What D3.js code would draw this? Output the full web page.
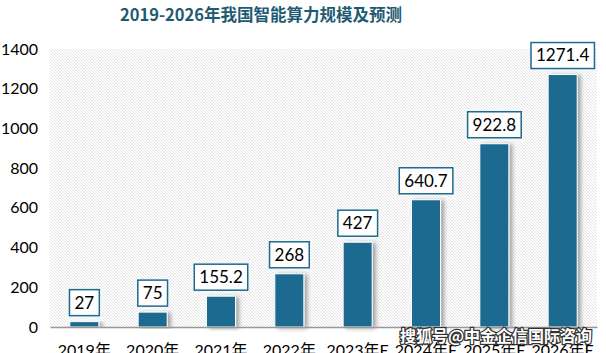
<!DOCTYPE html>
<html>
<head>
<meta charset="utf-8">
<script src="https://cdn.jsdelivr.net/npm/d3@7"></script>
<style>
  body { margin: 0; background: #fff; }
  text { font-family: Lato, "Noto Sans CJK SC", sans-serif; }
</style>
</head>
<body>
<div id="chart"></div>
<script>
// Data
const years = ["2019年", "2020年", "2021年", "2022年", "2023年E", "2024年E", "2025年E", "2026年E"];
const values = [27, 75, 155.2, 268, 427, 640.7, 922.8, 1271.4];
const labels = ["27", "75", "155.2", "268", "427", "640.7", "922.8", "1271.4"];
const yTicks = [0, 200, 400, 600, 800, 1000, 1200, 1400];

const width = 606, height = 353;
const margin = { top: 49, right: 9, bottom: 26, left: 50 };
const barColor = "#1c6b8f";

const svg = d3.select("#chart").append("svg")
    .attr("width", width)
    .attr("height", height);

const defs = svg.append("defs");

// Diagonal hatch for plot background
const pattern = defs.append("pattern")
    .attr("id", "hatch")
    .attr("patternUnits", "userSpaceOnUse")
    .attr("width", 3)
    .attr("height", 3);
pattern.append("rect").attr("width", 3).attr("height", 3).attr("fill", "#fff");
pattern.append("path")
    .attr("d", "M-1,-1 L4,4 M-1,2 L1,4 M2,-1 L4,1")
    .attr("stroke", "#dcdcdc")
    .attr("stroke-width", 0.8);

// Bar shadow
const shadow = defs.append("filter")
    .attr("id", "shadow")
    .attr("x", "-30%").attr("y", "-10%")
    .attr("width", "160%").attr("height", "120%");
shadow.append("feDropShadow")
    .attr("dx", 3).attr("dy", 1)
    .attr("stdDeviation", 2)
    .attr("flood-color", "#000")
    .attr("flood-opacity", 0.35);

const x = d3.scaleBand()
    .domain(years)
    .range([margin.left, width - margin.right])
    .paddingInner(0.575)
    .paddingOuter(0.29);

const y = d3.scaleLinear()
    .domain([0, 1400])
    .range([height - margin.bottom, margin.top]);

// Title
svg.append("text")
    .attr("x", 261)
    .attr("y", 21)
    .attr("text-anchor", "middle")
    .style("font-family", "'Noto Sans CJK SC', sans-serif")
    .style("font-size", "16.5px")
    .style("font-weight", "bold")
    .attr("fill", "#1f5a73")
    .text("2019-2026年我国智能算力规模及预测");

// Hatched plot background
svg.append("rect")
    .attr("x", margin.left)
    .attr("y", y(1400))
    .attr("width", width - margin.right - margin.left)
    .attr("height", y(0) - y(1400))
    .attr("fill", "url(#hatch)");

// Y axis labels
svg.append("g")
    .attr("transform", `translate(${margin.left},0)`)
    .call(d3.axisLeft(y).tickValues(yTicks).tickSize(0).tickPadding(12).tickFormat(d3.format("d")))
    .call(g => g.select(".domain").remove())
    .selectAll("text")
    .style("font-size", "16px")
    .attr("fill", "#000");

// Bars
svg.selectAll("rect.bar")
    .data(values)
    .join("rect")
    .attr("class", "bar")
    .attr("x", (d, i) => x(years[i]))
    .attr("y", d => y(d))
    .attr("width", x.bandwidth())
    .attr("height", d => y(0) - y(d))
    .attr("fill", barColor)
    .attr("stroke", "#fff")
    .attr("stroke-width", 1)
    .attr("filter", "url(#shadow)");

// X axis
svg.append("g")
    .attr("transform", `translate(0,${y(0)})`)
    .call(d3.axisBottom(x).tickSize(0).tickPadding(18))
    .call(g => g.select(".domain").attr("stroke", "#999").attr("stroke-width", 1.5))
    .selectAll("text")
    .style("font-family", "Lato, 'Noto Sans CJK SC', sans-serif")
    .style("font-size", "16px")
    .attr("fill", "#000");

// Value label boxes
const labelG = svg.selectAll("g.vlabel")
    .data(values)
    .join("g")
    .attr("class", "vlabel")
    .attr("transform", (d, i) => `translate(${x(years[i]) + x.bandwidth() / 2},${y(d) - 19})`);

labelG.append("text")
    .attr("text-anchor", "middle")
    .attr("dy", "0.35em")
    .style("font-size", "17px")
    .attr("fill", "#000")
    .text((d, i) => labels[i]);

labelG.each(function () {
    const g = d3.select(this);
    const bb = g.select("text").node().getBBox();
    g.insert("rect", "text")
        .attr("x", bb.x - 5)
        .attr("y", -13)
        .attr("width", bb.width + 10)
        .attr("height", 26)
        .attr("fill", "#fff")
        .attr("stroke", "#1c6b8f")
        .attr("stroke-width", 1.5);
});

// Watermark
svg.append("text")
    .attr("x", 592)
    .attr("y", 342)
    .attr("text-anchor", "end")
    .style("font-family", "'Noto Sans CJK SC', sans-serif")
    .style("font-size", "16px")
    .style("font-weight", "bold")
    .attr("fill", "#fff")
    .attr("stroke", "#333")
    .attr("stroke-width", 2.5)
    .attr("paint-order", "stroke")
    .text("搜狐号@中金企信国际咨询");
</script>
</body>
</html>
